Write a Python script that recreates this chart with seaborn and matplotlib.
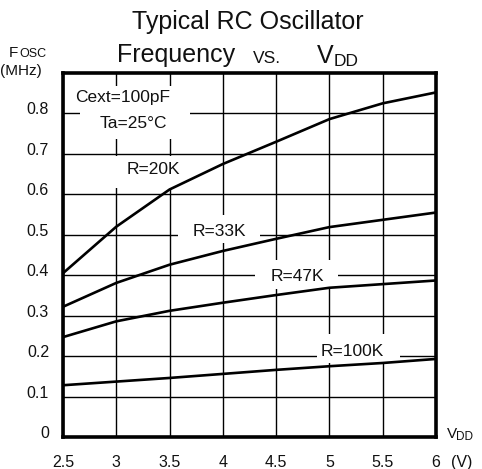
import numpy as np
import pandas as pd
import matplotlib
matplotlib.use("Agg")
import matplotlib.pyplot as plt
import matplotlib.transforms as mtransforms
from matplotlib.patches import Rectangle
import seaborn as sns

# Supply voltage (V)
vdd = [2.5, 3.0, 3.5, 4.0, 4.5, 5.0, 5.5, 6.0]

# Oscillator frequency (MHz) for each external resistor, Cext = 100 pF
f_20k = [0.405, 0.52, 0.612, 0.675, 0.73, 0.786, 0.825, 0.852]
f_33k = [0.322, 0.381, 0.426, 0.46, 0.49, 0.519, 0.537, 0.555]
f_47k = [0.247, 0.286, 0.312, 0.332, 0.351, 0.369, 0.378, 0.387]
f_100k = [0.128, 0.137, 0.146, 0.156, 0.166, 0.175, 0.183, 0.193]

series_names = ["R=20K", "R=33K", "R=47K", "R=100K"]
x_ticks = [2.5, 3, 3.5, 4, 4.5, 5, 5.5, 6]
x_tick_labels = ["2.5", "3", "3.5", "4", "4.5", "5", "5.5", "6"]
y_ticks = [0, 0.1, 0.2, 0.3, 0.4, 0.5, 0.6, 0.7, 0.8]
y_tick_labels = ["0", "0.1", "0.2", "0.3", "0.4", "0.5", "0.6", "0.7", "0.8"]

df = pd.DataFrame({
    "VDD": vdd * 4,
    "Fosc": f_20k + f_33k + f_47k + f_100k,
    "R": sum([[n] * len(vdd) for n in series_names], []),
})

sns.set_style("white")
plt.rcParams["font.family"] = ["Liberation Sans", "DejaVu Sans"]

W, H = 482, 469
fig = plt.figure(figsize=(W / 100, H / 100), dpi=100)
ax = fig.add_axes([63 / W, 1 - 437 / H, (436 - 63) / W, (437 - 73) / H])


def fx(px):
    return px / W


def fy(py):
    return 1 - py / H


ax.set_axisbelow(True)
ax.grid(True, color="black", linewidth=1.0)

sns.lineplot(data=df, x="VDD", y="Fosc", hue="R", palette=["black"] * 4,
             linewidth=1.9, legend=False, ax=ax, zorder=3)

ax.set_xlim(2.5, 6)
ax.set_ylim(0, 0.9)
ax.set_xticks(x_ticks)
ax.set_xticklabels(x_tick_labels)
ax.set_yticks(y_ticks)
ax.set_yticklabels(y_tick_labels)
ax.set_xlabel("")
ax.set_ylabel("")
ax.tick_params(axis="both", length=0, labelsize=11.5, colors="#111111")
ax.tick_params(axis="y", pad=10)
ax.tick_params(axis="x", pad=13)

# Lift the y labels slightly above their grid lines
shift = mtransforms.ScaledTranslation(0, 5 / 100, fig.dpi_scale_trans)
for lab in ax.get_yticklabels():
    lab.set_transform(lab.get_transform() + shift)

for sp in ax.spines.values():
    sp.set_visible(True)
    sp.set_color("black")
    sp.set_linewidth(2.6)

# White backgrounds behind the annotations (interrupt the grid)
boxes = [
    (2.66, 0.738, 3.69, 0.869),
    (2.92, 0.615, 3.74, 0.696),
    (3.58, 0.479, 4.35, 0.548),
    (4.30, 0.365, 5.08, 0.437),
    (4.88, 0.183, 5.66, 0.254),
]
for x0, y0, x1, y1 in boxes:
    ax.add_patch(Rectangle((x0, y0), x1 - x0, y1 - y0, facecolor="white",
                           edgecolor="none", zorder=1))

txt_kw = dict(ha="center", va="center", fontsize=12.5, color="#111111", zorder=4)
ax.text(3.063, 0.8395, "Cext=100pF", **txt_kw)
ax.text(3.157, 0.775, "Ta=25°C", **txt_kw)
label_pos = [(3.344, 0.662), (3.963, 0.509), (4.695, 0.398), (5.211, 0.212)]
for name, (lx, ly) in zip(series_names, label_pos):
    ax.text(lx, ly, name, **txt_kw)

# Title, with small-caps style "VS." and subscript DD
tcol = "#111111"
fig.text(fx(248), fy(22), "Typical RC Oscillator", ha="center", va="center",
         fontsize=18, color=tcol)
fig.text(fx(117), fy(62), "Frequency", ha="left", va="baseline",
         fontsize=18, color=tcol)
fig.text(fx(253), fy(63), "VS.", ha="left", va="baseline",
         fontsize=12.5, color=tcol)
fig.text(fx(317), fy(63), "V", ha="left", va="baseline",
         fontsize=18, color=tcol)
fig.text(fx(334), fy(66), "DD", ha="left", va="baseline",
         fontsize=12.5, color=tcol)

# Y axis caption
fig.text(fx(9), fy(57), "F", ha="left", va="baseline", fontsize=11, color=tcol)
fig.text(fx(19), fy(57), "OSC", ha="left", va="baseline", fontsize=9, color=tcol)
fig.text(fx(0), fy(71), "(MHz)", ha="left", va="center", fontsize=11, color=tcol)

# X axis caption
fig.text(fx(447), fy(438), "V", ha="left", va="baseline", fontsize=11, color=tcol)
fig.text(fx(456), fy(440), "DD", ha="left", va="baseline", fontsize=8.5, color=tcol)
fig.text(fx(451), fy(462), "(V)", ha="left", va="center", fontsize=11.5, color=tcol)

fig.savefig("out.png", dpi=100, facecolor="white")
